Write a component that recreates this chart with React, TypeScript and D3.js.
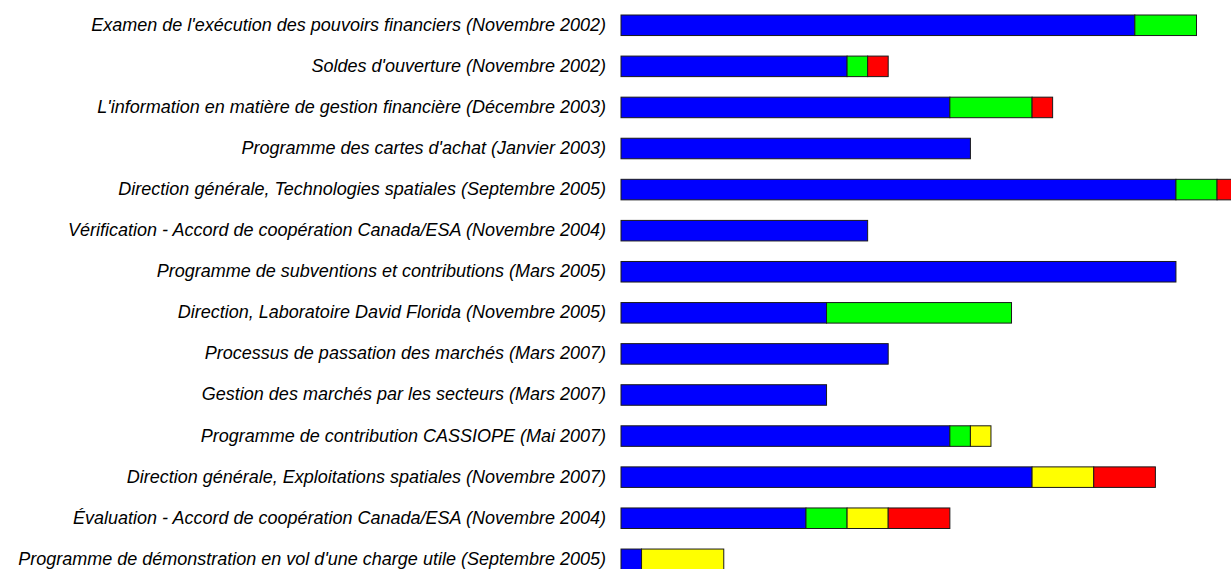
import React from "react";
import * as d3 from "d3";

const categories = [
  "Examen de l'exécution des pouvoirs financiers (Novembre 2002)",
  "Soldes d'ouverture (Novembre 2002)",
  "L'information en matière de gestion financière (Décembre 2003)",
  "Programme des cartes d'achat (Janvier 2003)",
  "Direction générale, Technologies spatiales (Septembre 2005)",
  "Vérification - Accord de coopération Canada/ESA (Novembre 2004)",
  "Programme de subventions et contributions (Mars 2005)",
  "Direction, Laboratoire David Florida (Novembre 2005)",
  "Processus de passation des marchés (Mars 2007)",
  "Gestion des marchés par les secteurs (Mars 2007)",
  "Programme de contribution CASSIOPE (Mai 2007)",
  "Direction générale, Exploitations spatiales (Novembre 2007)",
  "Évaluation - Accord de coopération Canada/ESA (Novembre 2004)",
  "Programme de démonstration en vol d'une charge utile (Septembre 2005)",
];

const blueValues = [25, 11, 16, 17, 27, 12, 27, 10, 13, 10, 16, 20, 9, 1];
const greenValues = [3, 1, 4, 0, 2, 0, 0, 9, 0, 0, 1, 0, 2, 0];
const yellowValues = [0, 0, 0, 0, 0, 0, 0, 0, 0, 0, 1, 3, 2, 4];
const redValues = [0, 1, 1, 0, 1, 0, 0, 0, 0, 0, 0, 3, 3, 0];

const seriesKeys = ["blue", "green", "yellow", "red"];
const seriesColors = ["#0000ff", "#00ff00", "#ffff00", "#ff0000"];

const W = 1231;
const H = 569;

export default function App() {
  const rows = categories.map((c, i) => ({
    cat: c,
    blue: blueValues[i],
    green: greenValues[i],
    yellow: yellowValues[i],
    red: redValues[i],
  }));
  const stack = d3.stack<any>().keys(seriesKeys);
  const layers = stack(rows);

  const step = 41.08;
  const x = d3.scaleLinear().domain([0, 28]).range([621, 1196.5]);
  const y = d3
    .scaleBand<string>()
    .domain(categories)
    .range([4.73, 4.73 + 14 * step])
    .paddingInner(0.5)
    .paddingOuter(0.25);

  return (
    <svg
      width={W}
      height={H}
      style={{ position: "absolute", left: 0, top: 0, background: "#fff" }}
    >
      {categories.map((c) => (
        <text
          key={c}
          x={606}
          y={(y(c) as number) + y.bandwidth() / 2 + 5.5}
          textAnchor="end"
          fontFamily="'Liberation Sans', Arial, sans-serif"
          fontStyle="italic"
          fontSize={18}
          fill="#000"
        >
          {c}
        </text>
      ))}
      {layers.map((layer, li) => (
        <g key={layer.key} fill={seriesColors[li]}>
          {layer.map((d, i) =>
            d[1] - d[0] > 0 ? (
              <rect
                key={i}
                x={x(d[0])}
                y={y(categories[i]) as number}
                width={x(d[1]) - x(d[0])}
                height={y.bandwidth()}
                stroke="#1a1a1a"
                strokeWidth={1}
              />
            ) : null
          )}
        </g>
      ))}
    </svg>
  );
}
